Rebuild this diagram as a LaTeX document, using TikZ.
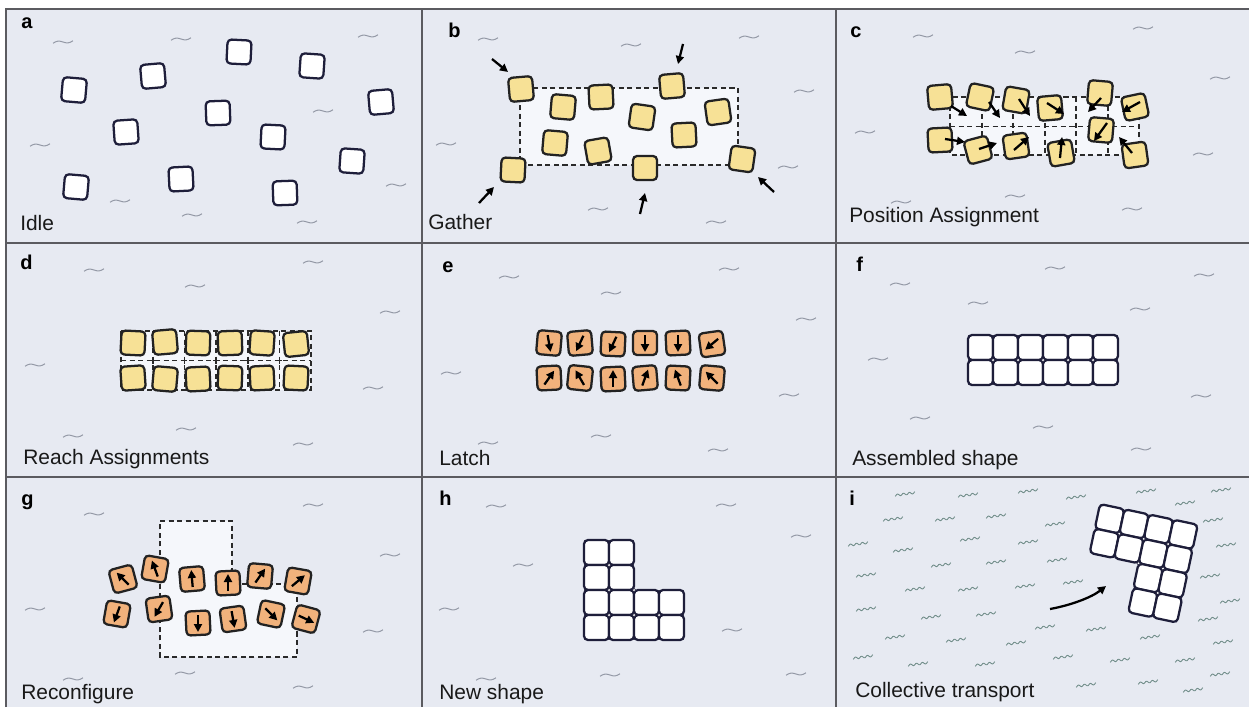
\documentclass[tikz,border=0pt]{standalone}
\usepackage{fontspec}
\setmainfont{Liberation Sans}
\usetikzlibrary{arrows.meta}
\definecolor{panelbg}{HTML}{E7EAF2}
\definecolor{gridline}{HTML}{5B5B60}
\definecolor{navy}{HTML}{1E1E3A}
\definecolor{cdark}{HTML}{222222}
\definecolor{cyellow}{HTML}{F7E196}
\definecolor{corange}{HTML}{F1B27C}
\definecolor{lightfill}{HTML}{F5F7FB}
\definecolor{squiggray}{HTML}{9499A6}
\definecolor{squiggreen}{HTML}{6F8C88}
\definecolor{dashcol}{HTML}{2A2A2A}
\tikzset{
 divider/.style={draw=gridline, line width=0.9pt},
 wcell/.style={shape=rectangle, draw=navy, line width=1.7pt, fill=white, rounded corners=3pt, minimum size=18pt, inner sep=0pt, outer sep=0pt},
 ycell/.style={wcell, draw=cdark, fill=cyellow},
 ocell/.style={wcell, draw=cdark, fill=corange},
 gcell/.style={wcell, minimum size=18.75pt},
 dashbox/.style={draw=dashcol, line width=1.2pt, dash pattern=on 3.8pt off 2.6pt, fill=lightfill},
 dashln/.style={draw=dashcol, line width=1.2pt, dash pattern=on 3.8pt off 2.6pt},
 arr/.style={draw=black, line width=1.7pt, -{Triangle[length=6pt,width=6pt]}},
 squig/.style={draw=squiggray, line width=0.75pt},
 squigi/.style={draw=squiggreen, line width=0.65pt},
 captxt/.style={anchor=base west, inner sep=0pt, font=\fontsize{15.7}{18}\selectfont, text=black!90},
 plabel/.style={anchor=base west, inner sep=0pt, font=\bfseries\fontsize{15}{17}\selectfont},
 jdot/.style={circle, draw=navy, fill=white, line width=0.5pt, minimum size=2.6pt, inner sep=0pt},
}
\newcommand\sqg[2]{\begin{scope}[shift={(#1,#2)},rotate=7]\draw[squig] (-10,0) sin (-5,-1.5) cos (0,0) sin (5,1.5) cos (10,0);\end{scope}}
\newcommand\sqgi[2]{\begin{scope}[shift={(#1,#2)},rotate=8]\draw[squigi] plot[domain=-10:10,samples=41,smooth] (\x,{1.0*sin(\x*60)});\end{scope}}
\newcommand\inarr[3]{\draw[arr] (#1,#2) ++({180-(#3)}:8) -- ++({-(#3)}:17);}
\begin{document}
\begin{tikzpicture}[x=0.75pt,y=-0.75pt]
\useasboundingbox[fill=white] (0,0) rectangle (1249,707);
\fill[panelbg] (6,9) rectangle (1249,707);
\draw[divider] (6,707) -- (6,9) -- (1249,9);
\draw[divider] (422,9) -- (422,707);
\draw[divider] (836,9) -- (836,707);
\draw[divider] (6,243) -- (1249,243);
\draw[divider] (6,477) -- (1249,477);
% squiggles
\foreach \p/\q in {63/42,181/39,368/36,323/111,40/145,120/201,192/215,307/222,396/185,
 488/39,631/45,749/37,804/91,446/144,788/167,598/209,716/222,
 923/36,1025/52,1143/28,1220/78,865/132,1203/154,901/202,1015/196,1132/209,
 94/270,195/286,313/262,390/312,35/365,373/388,73/436,186/429,303/444,
 509/277,611/293,729/269,806/319,451/373,789/395,488/443,601/436,718/450,
 900/284,978/303,1055/268,1204/275,1140/309,878/359,1201/396,920/418,1043/427,1141/449,
 94/514,313/505,390/555,35/609,373/631,73/679,185/673,303/687,
 496/506,726/505,801/536,523/565,449/609,732/630,486/679,610/675,796/674}
 {\sqg{\p}{\q}}
\foreach \p/\q in {905/494,968/495,1028/491,1076/497,1146/491,1185/503,1221/490,
 893/519,945/519,996/516,1055/524,1213/520,858/544,903/550,970/539,1028/542,1226/545,
 941/565,996/562,1057/560,1210/576,866/575,915/589,968/589,1025/586,1073/582,
 866/609,931/617,986/614,1230/601,1208/619,895/637,956/640,1016/643,1045/627,1096/629,1150/637,1223/642,
 863/657,918/664,985/664,1063/657,1120/660,1185/660,1220/674,1086/685,1148/682,1193/690}
 {\sqgi{\p}{\q}}
% panel labels
\node[plabel] (la) at (21,28) {a};
\node[plabel] (lb) at (448,37) {b};
\node[plabel] (lc) at (850,37) {c};
\node[plabel] (ld) at (20,269) {d};
\node[plabel] (le) at (442,272) {e};
\node[plabel] (lf) at (856,271) {f};
\node[plabel] (lg) at (21,505) {g};
\node[plabel] (lh) at (439,505) {h};
\node[plabel] (li) at (849,505) {i};
\node[captxt] (ca) at (20,230) {Idle};
\node[captxt] (cb) at (428,229) {Gather};
\node[captxt] (cc) at (849,222) {Position Assignment};
\node[captxt] (cd) at (23,464) {Reach Assignments};
\node[captxt] (ce) at (439,465) {Latch};
\node[captxt] (cf) at (852,465) {Assembled shape};
\node[captxt] (cg) at (21,699) {Reconfigure};
\node[captxt] (ch) at (439,699) {New shape};
\node[captxt] (ci) at (855,697) {Collective transport};
% panel a
\foreach \p/\q/\r [count=\i] in {74/90/-5,153/76/5,239/52/-3,312/66/-4,381/102/5,126/132/4,218/113/2,273/137/-3,352/161/-4,76/187/-5,181/179/3,285/193/2}
 \node[wcell,rotate=\r] (a\i) at (\p,\q) {};
% panel b
\draw[dashbox] (520,88) rectangle (738,165);
\foreach \p/\q/\r [count=\i] in {521/89/5,563/107/-5,601/97/3,672/86/5,642/117/-8,718/112/8,555/143/-5,598/151/10,684/135/3,513/170/-3,645/168/0,742/159/-8}
 \node[ycell,rotate=\r] (b\i) at (\p,\q) {};
\foreach \s/\t/\u/\v in {492/59/508/72,683/44/678/64,479/203/494/187,640/214/645/193,774/192/758/177}
 \draw[arr] (\s,\t) -- (\u,\v);
% panel c
\draw[dashbox] (950,97) rectangle (1139,155);
\foreach \p in {982,1013,1045,1076,1108} \draw[dashln] (\p,97) -- (\p,155);
\draw[dashln] (950,126.5) -- (1139,126.5);
\foreach \p/\q/\r [count=\i] in {940/97/5,980/97/-12,1016/100/-10,1050/108/5,1100/93/-5,1135/107/12,940/140/3,978/150/15,1016/146/8,1061/153/10,1101/130/-5,1135/155/8}
 \node[ycell,rotate=\r] (c\i) at (\p,\q) {};
\foreach \s/\t/\u/\v in {951/106/967/116,989/102/1000/118,1019/99/1030/116,1047/103/1064/114,1101/98/1088/112,1140/102/1122/112,945/139/965/142,979/149/997/143,1014/150/1029/137,1060/158/1062/137,1107/123/1094/141,1132/153/1119/137}
 \draw[arr] (\s,\t) -- (\u,\v);
% panel d
\draw[dashbox] (121,331) rectangle (311,390);
\foreach \p in {152.7,184.3,216,247.7,279.3} {\draw[dashln] (\p,331) -- (\p,390); \draw[dashcol,line width=1.2pt] (\p-3,360.5) -- (\p+3,360.5) (\p,357.5) -- (\p,363.5);}
\draw[dashln] (121,360.5) -- (311,360.5);
\foreach \p/\q/\r [count=\i] in {133/343/-3,165/342/5,198/343/-2,230/343/2,262/343/-4,296/344/6,133/378/4,165/379/-5,198/379/3,230/378/-2,262/378/3,296/378/-3}
 \node[ycell,rotate=\r] (d\i) at (\p,\q) {};
% panel e
\foreach \p/\q/\r/\a [count=\i] in {549/343/-5/-80,580/343/5/-115,613/344/-3/-115,645/343/0/-90,678/343/3/-90,712/344/8/-140,549/378/3/55,580/378/-6/120,613/379/3/90,645/378/5/70,678/378/-3/110,712/378/-5/135}
 {\node[ocell,rotate=\r] (e\i) at (\p,\q) {}; \inarr{\p}{\q}{\a}}
% panel f
\foreach \q [count=\j] in {347.5,372.5}
 \foreach \p [count=\i] in {980.5,1005.5,1030.5,1055.5,1080.5,1105.5}
  \node[gcell] (f\j\i) at (\p,\q) {};
\foreach \p [count=\i] in {993,1018,1043,1068,1093} \node[jdot] (fd\i) at (\p,360) {};
% panel g
\draw[dashbox] (160,521) -- (232,521) -- (232,584) -- (297,584) -- (297,657) -- (160,657) -- cycle;
\foreach \p/\q/\r/\a [count=\i] in {123/579/15/135,155/569/-10/110,192/579/5/95,228/583/3/90,260/576/-5/55,298/581/-10/40,117/614/-10/-110,159/609/8/-120,198/623/3/-90,233/619/8/-80,271/614/-12/-45,306/619/-15/-25}
 {\node[ocell,rotate=\r] (g\i) at (\p,\q) {}; \inarr{\p}{\q}{\a}}
% panel h
\foreach \p/\q [count=\i] in {596.5/552.5,621.5/552.5,596.5/577.5,621.5/577.5,596.5/602.5,621.5/602.5,646.5/602.5,671.5/602.5,596.5/627.5,621.5/627.5,646.5/627.5,671.5/627.5}
 \node[gcell] (h\i) at (\p,\q) {};
\foreach \p/\q [count=\i] in {609/565,609/590,634/590,609/615,634/615,659/615}
 \node[jdot] (hd\i) at (\p,\q) {};
% panel i
\begin{scope}[shift={(1100,504)},rotate=-12,transform shape]
\foreach \p/\q [count=\i] in {12.5/12.5,37.5/12.5,62.5/12.5,87.5/12.5,12.5/37.5,37.5/37.5,62.5/37.5,87.5/37.5,62.5/62.5,87.5/62.5,62.5/87.5,87.5/87.5}
 \node[gcell] (i\i) at (\p,\q) {};
\foreach \p/\q [count=\i] in {25/25,50/25,75/25,50/50,75/50,75/75}
 \node[jdot] (id\i) at (\p,\q) {};
\end{scope}
\coordinate (it0) at (1050,609);
\coordinate (it1) at (1106,586);
\draw[arr] (it0) .. controls (1072,605) and (1092,597) .. (it1);
\end{tikzpicture}
\end{document}
